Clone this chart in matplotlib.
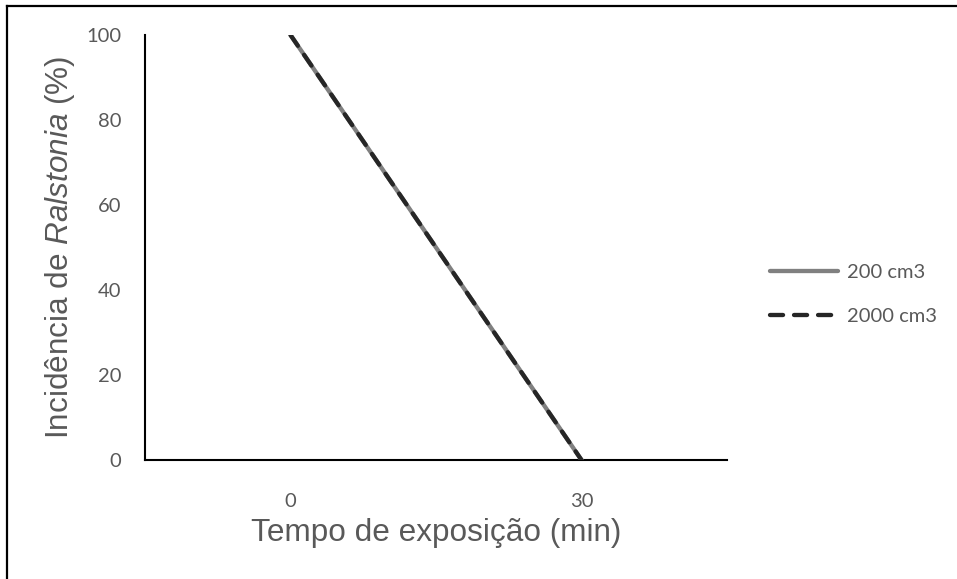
import matplotlib
matplotlib.use("Agg")
import matplotlib.pyplot as plt
import numpy as np
from matplotlib.lines import Line2D

# data
tempos = ["0", "30"]
inc_200 = [100, 0]
inc_2000 = [100, 0]
serie_nomes = ["200 cm3", "2000 cm3"]
y_ticks = [0, 20, 40, 60, 80, 100]

plt.rcParams["mathtext.fontset"] = "custom"
plt.rcParams["mathtext.rm"] = "Liberation Sans"
plt.rcParams["mathtext.it"] = "Liberation Sans:italic"
plt.rcParams["lines.scale_dashes"] = False

W, H = 957, 579
fig = plt.figure(figsize=(W / 100, H / 100), dpi=100)
# plot area in pixels: x 145..727, y 35..460
ax = fig.add_axes([145 / W, 1 - 460 / H, 582 / W, 425 / H])

x = list(range(len(tempos)))
ax.plot(x, inc_200, color="#808080", lw=3.1, solid_capstyle="round",
        label=serie_nomes[0], zorder=3)
ax.plot(x, inc_2000, color="#262626", lw=3.1, dashes=(9.4, 7.9),
        dash_capstyle="round", label=serie_nomes[1], zorder=4)

ax.set_xlim(-0.5, len(tempos) - 0.5)
ax.set_ylim(0, 100)
ax.set_xticks(x)
ax.set_xticklabels(tempos)
ax.set_yticks(y_ticks)

for s in ["top", "right"]:
    ax.spines[s].set_visible(False)
for s in ["left", "bottom"]:
    ax.spines[s].set_color("black")
    ax.spines[s].set_linewidth(1.5)
    ax.spines[s].set_zorder(2)

ax.tick_params(axis="both", length=0)
ax.tick_params(axis="x", pad=24)
ax.tick_params(axis="y", pad=17)
for lab in ax.get_xticklabels() + ax.get_yticklabels():
    lab.set_fontfamily("Lato")
    lab.set_fontsize(14.5)
    lab.set_color("#595959")

title_font = dict(family="Liberation Sans", size=22.7, color="#595959")
ax.set_xlabel("Tempo de exposição (min)", **title_font)
ax.xaxis.label.set_va("center")
ax.xaxis.set_label_coords(0.5, -(533 - 460) / 425)
ax.set_ylabel("Incidência de $\\it{Ralstonia}$ (%)", **title_font)
ax.yaxis.label.set_va("center")
ax.yaxis.set_label_coords((60 - 145) / 582, 0.5)

leg = ax.legend(loc="center left", bbox_to_anchor=(770 / W, 1 - 294.5 / H),
                bbox_transform=fig.transFigure, frameon=False,
                prop=dict(family="Lato", size=14.5), handlelength=3.36,
                handletextpad=0.45, labelspacing=1.35, borderpad=0,
                borderaxespad=0)
for t in leg.get_texts():
    t.set_color("#595959")
# the dashed legend sample stops after its third dash, as in the reference
dash_line = leg.get_lines()[1]
xd = np.asarray(dash_line.get_xdata(), dtype=float)
dash_line.set_xdata(xd[0] + (xd - xd[0]) * 0.91)

# outer frame of the chart (only top and left edges visible in the image)
fig.add_artist(Line2D([7 / W, 1], [1 - 6 / H, 1 - 6 / H], color="black",
                      lw=1.6, transform=fig.transFigure))
fig.add_artist(Line2D([7 / W, 7 / W], [0, 1 - 6 / H], color="black",
                      lw=1.6, transform=fig.transFigure))

fig.savefig("out.png", dpi=100)
